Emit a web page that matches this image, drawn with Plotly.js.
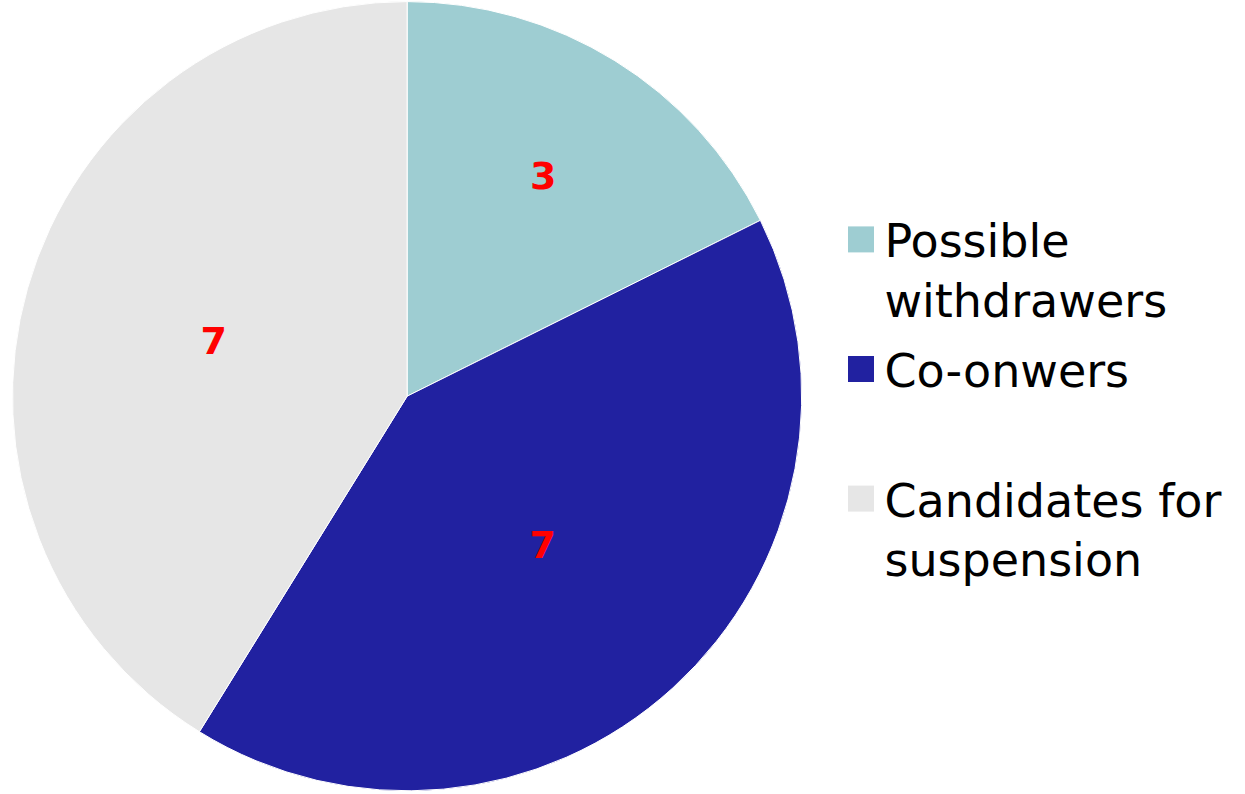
<!DOCTYPE html>
<html>
<head>
<meta charset="utf-8">
<script src="https://cdn.plot.ly/plotly-3.0.1.min.js"></script>
<style>html,body{margin:0;padding:0;background:#fff;}#chart{width:1245px;height:794px;}</style>
</head>
<body>
<div id="chart"></div>
<script>
const categories = ["Possible<br>withdrawers", "Co-onwers<br>&nbsp;", "Candidates for<br>suspension"];
const values = [3, 7, 7];
const sliceColors = ["#9ecdd2", "#2121a0", "#e6e6e6"];

const trace = {
  type: "pie",
  labels: categories,
  values: values,
  sort: false,
  direction: "clockwise",
  rotation: 0,
  marker: { colors: sliceColors, line: { color: "#ffffff", width: 1 } },
  textinfo: "value",
  textposition: "inside",
  insidetextorientation: "horizontal",
  textfont: { family: "DejaVu Sans", size: 38, color: "#ff0000", weight: "bold" },
  hoverinfo: "label+value",
  domain: { x: [0.0088, 0.6452], y: [0.004, 0.998] }
};

const layout = {
  width: 1245,
  height: 794,
  margin: { l: 0, r: 0, t: 0, b: 0 },
  paper_bgcolor: "#ffffff",
  showlegend: true,
  legend: {
    x: 0.667, xanchor: "left",
    y: 1 - 203 / 794, yanchor: "top",
    valign: "top",
    itemwidth: 44,
    font: { family: "DejaVu Sans", size: 46, color: "#000000" },
    bgcolor: "rgba(0,0,0,0)",
    tracegroupgap: 0
  }
};

Plotly.newPlot("chart", [trace], layout, { displayModeBar: false, staticPlot: true }).then(function () {
  document.querySelectorAll("#chart .legendpoints path").forEach(function (p) {
    p.setAttribute("d", "M16.6,13H-9.4V-13H16.6Z");
    p.style.strokeWidth = "0px";
  });
  const sb = document.querySelector("#chart .legend .scrollbox");
  if (sb) sb.removeAttribute("clip-path");
  document.querySelectorAll("#chart .legend .traces").forEach(function (g, i) {
    const t = g.getAttribute("transform") || "";
    const m = t.match(/translate\(\s*([-\d.]+)[ ,]+([-\d.]+)\s*\)/);
    if (m) g.setAttribute("transform", "translate(" + m[1] + "," + (parseFloat(m[2]) + i * 7) + ")");
  });
});
</script>
</body>
</html>
